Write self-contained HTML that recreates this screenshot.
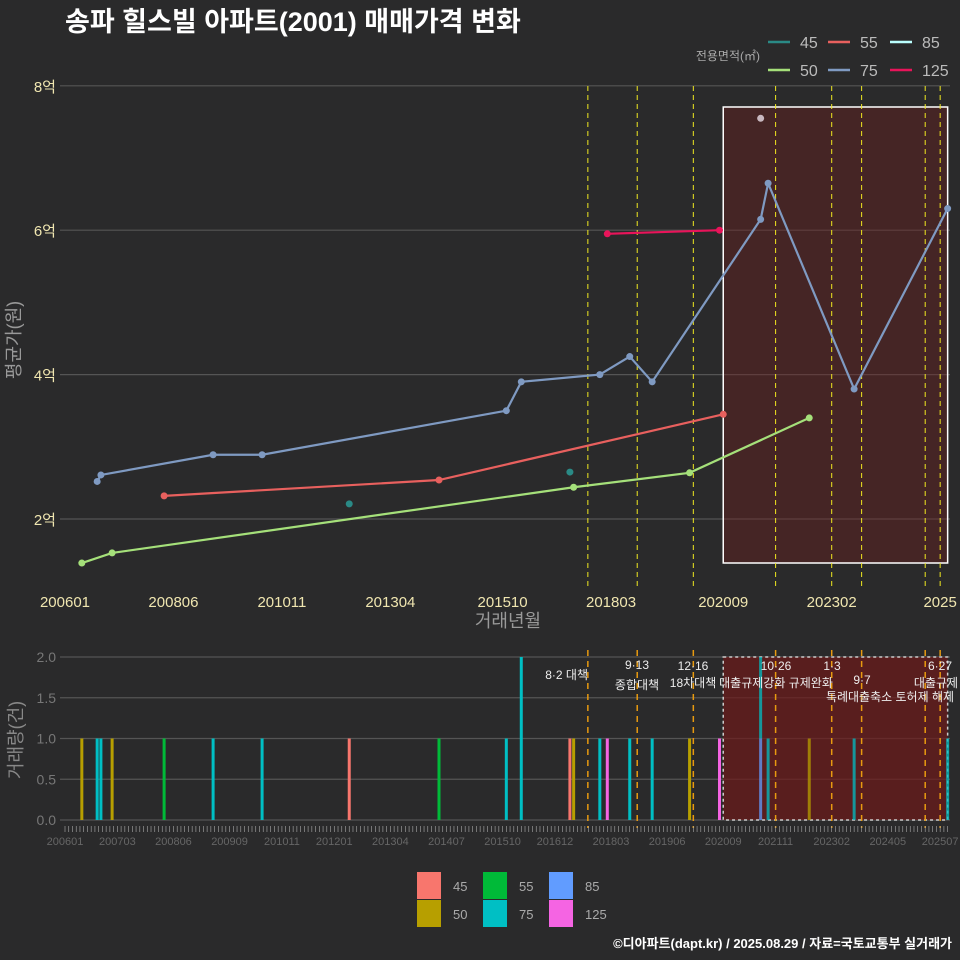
<!DOCTYPE html>
<html><head><meta charset="utf-8">
<style>
body{margin:0;background:#2a2a2b;}
svg{display:block;font-family:"Liberation Sans","Noto Sans CJK KR",sans-serif;}
</style></head>
<body>
<svg id="c" width="960" height="960" viewBox="0 0 960 960">
<rect width="960" height="960" fill="#2a2a2b"/>
<text x="65" y="31" fill="#fff" font-size="27" font-weight="bold">송파 힐스빌 아파트(2001) 매매가격 변화</text>
<g id="top"></g>
<g id="bot"></g>
<text x="952" y="948" fill="#fff" font-size="13" font-weight="bold" text-anchor="end">©디아파트(dapt.kr) / 2025.08.29 / 자료=국토교통부 실거래가</text>
</svg>
<script>
// months since 2006-01
const priceSizes = ['45','50','55','75','85','125'];
const s45 = [[76,2.21],[135,2.65]];
const s50 = [[4.5,1.39],[12.6,1.53],[136,2.44],[167,2.64],[199,3.4]];
const s55 = [[26.5,2.32],[100,2.54],[176,3.45]];
const s75 = [[8.6,2.52],[9.6,2.61],[39.6,2.89],[52.7,2.89],[118,3.5],[122,3.9],[143,4.0],[151,4.25],[157,3.9],[186,6.15],[188,6.65],[211,3.8],[236,6.3]];
const s85 = [[186,7.55]];
const s125 = [[145,5.95],[175,6.0]];
const yTicks = [2,4,6,8];
const yTickLabels = ['2억','4억','6억','8억'];
const xTickMonths = [0,29,58,87,117,146,176,205,234];
const xTickLabels = ['200601','200806','201011','201304','201510','201803','202009','202302','2025'];
const policyMonths = [139.8,153,168,190,205,213,230,234];
const rectStart = 176, rectEnd = 236;
// volume bars
const barMonths = [4.5,8.6,9.6,12.6,26.5,39.6,52.7,76,100,118,122,135,136,143,145,151,157,167,175,186,186,188,199,211,236];
const barSizes  = ['50','75','75','50','55','75','75','45','55','75','75','45','50','75','125','75','75','50','125','85','75','75','50','75','75'];
const barCounts = [1,1,1,1,1,1,1,1,1,1,2,1,1,1,1,1,1,1,1,1,1,1,1,1,1];
const volTicks = [0,0.5,1,1.5,2];
const volTickLabels = ['0.0','0.5','1.0','1.5','2.0'];
const botXMonths = [0,14,29,44,58,72,87,102,117,131,146,161,176,190,205,220,234];
const botXLabels = ['200601','200703','200806','200909','201011','201201','201304','201407','201510','201612','201803','201906','202009','202111','202302','202405','202507'];

const NS='http://www.w3.org/2000/svg';
const X = m => 65 + m*3.74;
const Y = v => 519 - (v-2)*72.2;
const VY = v => 820 - v*81.5;
function mk(parent,tag,attrs,text){const e=document.createElementNS(NS,tag);for(const k in attrs)e.setAttribute(k,attrs[k]);if(text!==undefined)e.textContent=text;parent.appendChild(e);return e;}
const topG=document.getElementById('top'), botG=document.getElementById('bot');
const lineCol={'45':'#2a8a86','50':'#a5e07a','55':'#e8605e','75':'#7f9ac2','85':'#bff','125':'#e8145a'};
const barCol={'45':'#F8766D','50':'#B79F00','55':'#00BA38','75':'#00BFC4','85':'#619CFF','125':'#F564E3'};

yTicks.forEach((v,i)=>{
  let g=mk(topG,'line',{x1:60,x2:950,y1:Y(v),y2:Y(v),stroke:'#555',"stroke-width":1.2});
  
  
  let t=mk(topG,'text',{x:56,y:Y(v)+6,fill:'#f0e6b0',"font-size":15,"text-anchor":"end"},yTickLabels[i]);
  
  
});
xTickMonths.forEach((m,i)=>{
  let t=mk(topG,'text',{x:X(m),y:607,fill:'#f0e6b0',"font-size":15,"text-anchor":"middle"},xTickLabels[i]);
  
  
});
let r=mk(topG,'rect',{x:X(rectStart),y:107,width:X(rectEnd)-X(rectStart),height:456,fill:'rgba(110,30,30,0.4)',stroke:'#fff',"stroke-width":1.5});


policyMonths.forEach(m=>{
  let l=mk(topG,'line',{x1:X(m),x2:X(m),y1:86,y2:590,stroke:'#f0e820',"stroke-width":1,"stroke-dasharray":"5,4"});
  
  
});
const series={'45':s45,'50':s50,'55':s55,'75':s75,'85':s85,'125':s125};
Object.keys(series).forEach(k=>{
  const d=series[k];
  if(k!=='45'&&d.length>1){
    let p=mk(topG,'polyline',{points:d.map(q=>X(q[0])+','+Y(q[1])).join(' '),fill:'none',stroke:lineCol[k],"stroke-width":2.2});
    
    
  }
  d.forEach(q=>{
    let c=mk(topG,'circle',{cx:X(q[0]),cy:Y(q[1]),r:3.5,fill:k==='85'?'#c8b8c0':lineCol[k]});
    
    
  });
});
let yt=mk(topG,'text',{x:20,y:340,fill:'#999',"font-size":18,"text-anchor":"middle",transform:'rotate(-90 20 340)'},'평균가(원)');


let xt=mk(topG,'text',{x:508,y:627,fill:'#999',"font-size":18,"text-anchor":"middle"},'거래년월');


let lt=mk(topG,'text',{x:760,y:60,fill:'#aaa',"font-size":12,"text-anchor":"end"},'전용면적(㎡)');


const legPos=[['45',768,42],['55',828,42],['85',890,42],['50',768,70],['75',828,70],['125',890,70]];
legPos.forEach(p=>{
  let g=mk(topG,'g',{});
  
  
  mk(g,'line',{x1:p[1],x2:p[1]+22,y1:p[2],y2:p[2],stroke:lineCol[p[0]],"stroke-width":2.5});
  mk(g,'text',{x:p[1]+32,y:p[2]+6,fill:'#bbb',"font-size":16},p[0]);
});
volTicks.forEach((v,i)=>{
  let g=mk(botG,'line',{x1:60,x2:950,y1:VY(v),y2:VY(v),stroke:'#555',"stroke-width":1.2});
  
  
  let t=mk(botG,'text',{x:56,y:VY(v)+5,fill:'#777',"font-size":14,"text-anchor":"end"},volTickLabels[i]);
  
  
});
let br=mk(botG,'rect',{x:X(rectStart),y:VY(2),width:X(rectEnd)-X(rectStart),height:VY(0)-VY(2),fill:'rgba(110,25,25,0.7)',stroke:'#ccc',"stroke-width":1.5,"stroke-dasharray":"3,3"});


const stack={};
barMonths.forEach((m,i)=>{
  const base=stack[m]||0;const c=barCounts[i];
  let b=mk(botG,'rect',{x:X(m)-1.5,y:VY(base+c),width:3,height:VY(base)-VY(base+c),fill:barCol[barSizes[i]],opacity:m>=rectStart?0.75:1});
  
  
  stack[m]=base+c;
});
policyMonths.forEach(m=>{
  let l=mk(botG,'line',{x1:X(m),x2:X(m),y1:650,y2:828,stroke:'#e89a10',"stroke-width":1.5,"stroke-dasharray":"6,5"});
  
  
});
for(let m=0;m<=236;m++){
  let l=mk(botG,'line',{x1:X(m),x2:X(m),y1:826,y2:832,stroke:'#aaa',"stroke-width":0.6});
  
  
}
botXMonths.forEach((m,i)=>{
  let t=mk(botG,'text',{x:X(m),y:845,fill:'#666',"font-size":11,"text-anchor":"middle"},botXLabels[i]);
  
  
});
const notes=[[588,679,'8·2 대책','end'],[637,669,'9·13','middle'],[637,689,'종합대책','middle'],[693,670,'12·16','middle'],[693,687,'18차대책','middle'],[776,670,'10·26','middle'],[776,687,'대출규제강화 규제완화','middle'],[832,670,'1·3','middle'],[862,684,'9·7','middle'],[890,701,'특례대출축소 토허제 해제','middle'],[940,670,'6·27','middle'],[936,687,'대출규제','middle']];
notes.forEach(n=>{
  let t=mk(botG,'text',{x:n[0],y:n[1],fill:'#eee',"font-size":12,"text-anchor":n[3]},n[2]);
  
  
});
let vt=mk(botG,'text',{x:22,y:740,fill:'#888',"font-size":18,"text-anchor":"middle",transform:'rotate(-90 22 740)'},'거래량(건)');


const bl=[['45',417,872],['55',483,872],['85',549,872],['50',417,900],['75',483,900],['125',549,900]];
bl.forEach(p=>{
  let g=mk(botG,'g',{});
  
  
  mk(g,'rect',{x:p[1],y:p[2],width:24,height:27,fill:barCol[p[0]]});
  mk(g,'text',{x:p[1]+36,y:p[2]+19,fill:'#aaa',"font-size":13},p[0]);
});
</script>
</body></html>
